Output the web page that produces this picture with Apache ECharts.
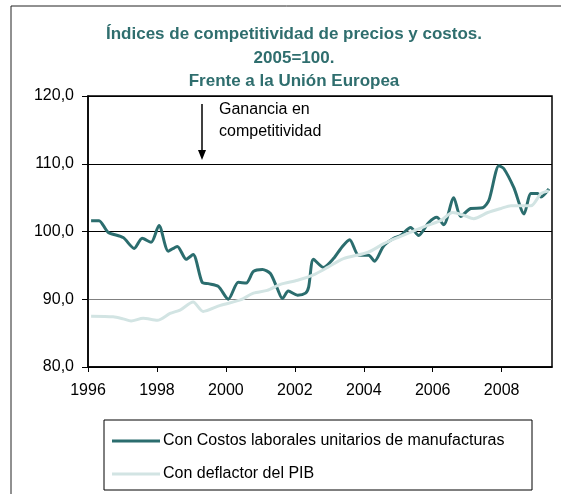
<!DOCTYPE html>
<html>
<head>
<meta charset="utf-8">
<script src="https://cdn.jsdelivr.net/npm/echarts@6/dist/echarts.min.js"></script>
<style>
  html, body { margin: 0; padding: 0; background: #fff; }
  #chart { width: 561px; height: 494px; }
</style>
</head>
<body>
<div id="chart"></div>
<script>
// datos (fecha en años decimales)
var costosFechas = [1996.09, 1996.32, 1996.58, 1997.02, 1997.34, 1997.57, 1997.83, 1998.06, 1998.33, 1998.59,
  1998.85, 1999.05, 1999.31, 1999.49, 1999.78, 2000.07, 2000.36, 2000.59, 2000.80, 2001.06,
  2001.29, 2001.49, 2001.64, 2001.81, 2002.08, 2002.31, 2002.40, 2002.54, 2002.83, 2003.12,
  2003.38, 2003.59, 2003.85, 2004.14, 2004.31, 2004.58, 2004.87, 2005.07, 2005.36, 2005.59,
  2005.88, 2006.12, 2006.32, 2006.61, 2006.81, 2007.10, 2007.45, 2007.63, 2007.92, 2008.06,
  2008.35, 2008.65, 2008.85, 2009.05, 2009.14, 2009.37];
var costosValores = [101.6, 101.6, 99.9, 99.1, 97.5, 99.0, 98.4, 100.9, 97.1, 97.8,
  95.9, 96.6, 92.5, 92.3, 91.9, 90.0, 92.5, 92.4, 94.1, 94.4,
  93.8, 91.6, 90.1, 91.2, 90.6, 90.9, 91.8, 95.9, 94.7, 96.0,
  97.8, 98.8, 96.5, 96.5, 95.6, 97.9, 99.0, 99.4, 100.6, 99.4,
  101.3, 102.1, 101.0, 105.0, 102.2, 103.4, 103.5, 104.6, 109.7, 109.3,
  106.5, 102.6, 105.6, 105.6, 105.1, 106.3];

var deflactorFechas = [1996.09, 1996.73, 1997.02, 1997.25, 1997.60, 1998.01, 1998.38, 1998.67, 1999.05, 1999.34,
  1999.84, 2000.42, 2000.80, 2001.20, 2001.58, 2002.08, 2002.54, 2002.95, 2003.41, 2004.11,
  2004.58, 2004.98, 2005.36, 2005.85, 2006.23, 2006.58, 2006.90, 2007.19, 2007.60, 2007.98,
  2008.27, 2008.85, 2009.14, 2009.37];
var deflactorValores = [87.5, 87.4, 87.1, 86.8, 87.2, 86.9, 87.9, 88.4, 89.6, 88.2,
  89.1, 89.9, 90.9, 91.3, 92.2, 92.8, 93.6, 94.7, 96.0, 96.9,
  98.2, 99.1, 99.9, 100.9, 101.6, 102.8, 102.4, 101.9, 102.8, 103.4,
  103.8, 103.8, 105.6, 106.0];

var anios = [1996, 1998, 2000, 2002, 2004, 2006, 2008];
var etiquetasY = ['80,0', '90,0', '100,0', '110,0', '120,0'];

function pares(fechas, valores) {
  var out = [];
  for (var i = 0; i < fechas.length; i++) {
    out.push([fechas[i], valores[i]]);
  }
  return out;
}

var chart = echarts.init(document.getElementById('chart'));

var option = {
  animation: false,
  title: {
    text: 'Índices de competitividad de precios y costos.\n2005=100.\nFrente a la Unión Europea',
    left: 289,
    top: 18,
    textAlign: 'center',
    textStyle: {
      color: '#2F6E6E',
      fontFamily: 'Arial, "Liberation Sans", sans-serif',
      fontSize: 17,
      fontWeight: 'bold',
      lineHeight: 23.3
    }
  },
  grid: {
    left: 88,
    right: 9,
    top: 96,
    bottom: 127,
    show: true,
    borderColor: '#000',
    borderWidth: 1.5
  },
  xAxis: {
    type: 'value',
    min: 1996,
    max: 2009.46,
    interval: 2,
    axisLine: { lineStyle: { color: '#000', width: 1.5 } },
    axisTick: { show: true, length: 5, lineStyle: { color: '#000' }, customValues: anios },
    axisLabel: {
      customValues: anios,
      color: '#000',
      fontSize: 16,
      fontFamily: 'Arial, "Liberation Sans", sans-serif',
      margin: 16,
      formatter: function (v) { return String(v); }
    },
    splitLine: { show: false }
  },
  yAxis: {
    type: 'value',
    min: 80,
    max: 120,
    interval: 10,
    axisLine: { show: true, lineStyle: { color: '#000', width: 1.5 } },
    axisTick: { show: true, length: 6, lineStyle: { color: '#000' } },
    axisLabel: {
      color: '#000',
      fontSize: 16,
      fontFamily: 'Arial, "Liberation Sans", sans-serif',
      margin: 14,
      formatter: function (v) { return etiquetasY[Math.round((v - 80) / 10)]; }
    },
    splitLine: { show: true, lineStyle: { color: ['#000', '#808080', '#000', '#000', '#000'], width: 1.2 } }
  },
  legend: {
    orient: 'vertical',
    left: 107,
    top: 428,
    itemWidth: 48,
    itemHeight: 3,
    itemGap: 17,
    icon: 'rect',
    textStyle: {
      color: '#000',
      fontSize: 16,
      fontFamily: 'Arial, "Liberation Sans", sans-serif',
      padding: [0, 0, 0, -2]
    },
    data: ['Con Costos laborales unitarios de manufacturas', 'Con deflactor del PIB']
  },
  graphic: [
    // marco exterior
    { type: 'rect', shape: { x: 11, y: 6, width: 600, height: 600 }, style: { fill: 'none', stroke: '#222', lineWidth: 1 }, silent: true },
    // caja de la leyenda
    { type: 'rect', shape: { x: 104, y: 420, width: 428, height: 70 }, style: { fill: 'none', stroke: '#000', lineWidth: 1 }, silent: true },
    // flecha
    { type: 'line', shape: { x1: 202, y1: 104, x2: 202, y2: 153 }, style: { stroke: '#000', lineWidth: 1.5 } },
    { type: 'polygon', shape: { points: [[198, 150], [206, 150], [202, 160]] }, style: { fill: '#000' } },
    {
      type: 'text', left: 219, top: 99,
      style: {
        text: 'Ganancia en\ncompetitividad',
        fill: '#000',
        font: '16px Arial, "Liberation Sans", sans-serif',
        lineHeight: 22
      }
    }
  ],
  series: [
    {
      name: 'Con Costos laborales unitarios de manufacturas',
      type: 'line',
      data: pares(costosFechas, costosValores),
      symbol: 'none',
      smooth: 0.25,
      lineStyle: { color: '#2B6D6E', width: 3 },
      itemStyle: { color: '#2B6D6E' }
    },
    {
      name: 'Con deflactor del PIB',
      type: 'line',
      data: pares(deflactorFechas, deflactorValores),
      symbol: 'none',
      smooth: 0.25,
      lineStyle: { color: '#D2E4E3', width: 3 },
      itemStyle: { color: '#D2E4E3' }
    }
  ]
};

chart.setOption(option);
</script>
</body>
</html>
